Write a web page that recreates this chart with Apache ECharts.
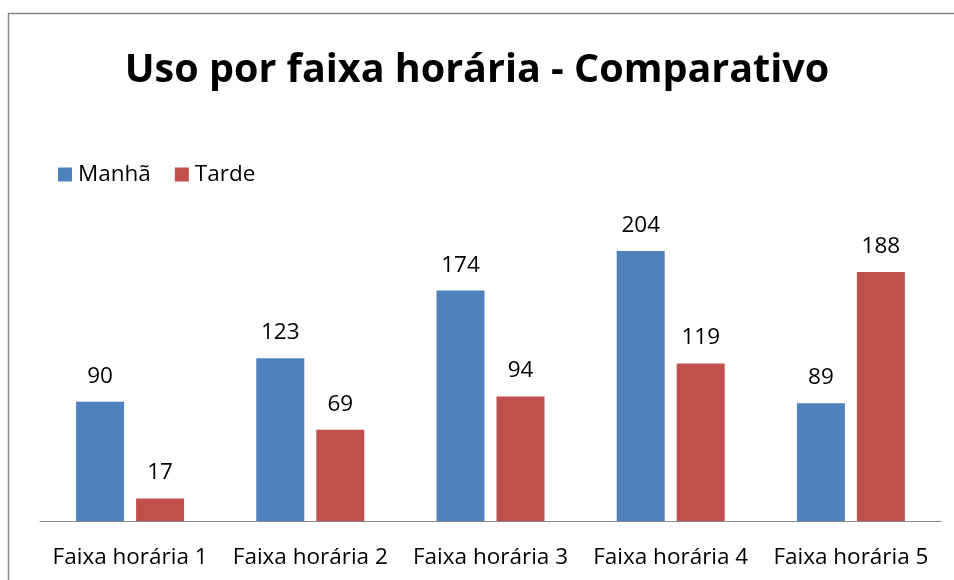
<!DOCTYPE html>
<html>
<head>
<meta charset="utf-8">
<script src="https://cdn.jsdelivr.net/npm/echarts@6/dist/echarts.min.js"></script>
<style>
  html, body { margin: 0; padding: 0; background: #fff; }
  #chart { width: 954px; height: 580px; }
</style>
</head>
<body>
<div id="chart"></div>
<script>
// data
var categories = ['Faixa horária 1', 'Faixa horária 2', 'Faixa horária 3', 'Faixa horária 4', 'Faixa horária 5'];
var manha = [90, 123, 174, 204, 89];
var tarde = [17, 69, 94, 119, 188];

var chart = echarts.init(document.getElementById('chart'));

var labelStyle = {
  show: true,
  position: 'top',
  distance: 14,
  color: '#000',
  fontSize: 22.5,
  fontFamily: 'Open Sans'
};

chart.setOption({
  animation: false,
  title: {
    text: 'Uso por faixa horária - Comparativo',
    left: 'center',
    top: 46,
    textStyle: {
      fontFamily: 'Open Sans',
      fontWeight: 'bold',
      fontSize: 39.5,
      color: '#000'
    }
  },
  legend: {
    left: 53,
    top: 158,
    itemWidth: 14,
    itemHeight: 14,
    itemGap: 24,
    icon: 'rect',
    textStyle: { fontFamily: 'Open Sans', fontSize: 22.5, color: '#000', padding: [0, 0, 0, 1] },
    data: ['Manhã', 'Tarde']
  },
  grid: { left: 40, right: 13, top: 190, bottom: 59 },
  xAxis: {
    type: 'category',
    data: categories,
    axisLine: { lineStyle: { color: '#898989', width: 1 } },
    axisTick: { show: false },
    axisLabel: { interval: 0, color: '#000', fontSize: 22.5, fontFamily: 'Open Sans', margin: 25 }
  },
  yAxis: {
    type: 'value',
    min: 0,
    max: 250,
    show: false,
    splitLine: { show: false }
  },
  graphic: [{
    type: 'rect',
    shape: { x: 8.5, y: 13.5, width: 1000, height: 700 },
    style: { fill: 'none', stroke: '#898989', lineWidth: 1.5 },
    silent: true
  }],
  series: [
    {
      name: 'Manhã',
      type: 'bar',
      data: manha,
      barWidth: 48,
      barGap: '25%',
      itemStyle: { color: '#4F81BD' },
      label: labelStyle
    },
    {
      name: 'Tarde',
      type: 'bar',
      data: tarde,
      barWidth: 48,
      barGap: '25%',
      itemStyle: { color: '#C0504D' },
      label: labelStyle
    }
  ]
});
</script>
</body>
</html>
